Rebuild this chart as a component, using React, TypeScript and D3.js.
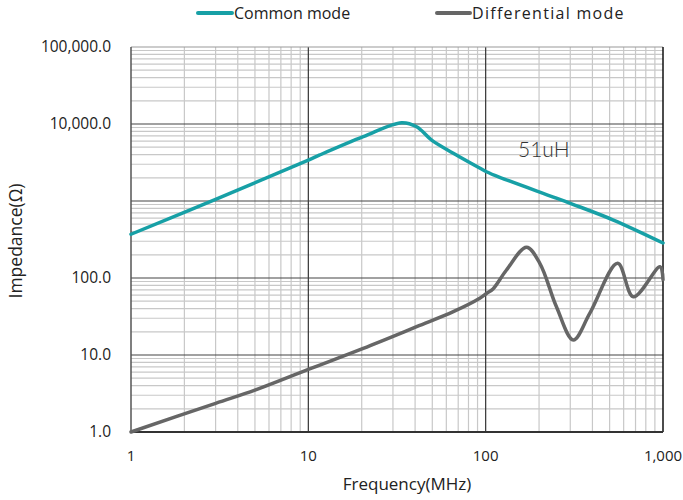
import React from "react";
import * as d3 from "d3";

const yTickValues = [1, 10, 100, 1000, 10000, 100000];
const yTickLabels = ["1.0", "10.0", "100.0", "", "10,000.0", "100,000.0"];
const xTickValues = [1, 10, 100, 1000];
const xTickLabels = ["1", "10", "100", "1,000"];

const commonFreq = [1, 3, 10, 11.6, 20.4, 33.6, 40.8, 49.6, 65.7, 93, 101, 120, 300, 525, 1000];
const commonZ = [370, 1050, 3400, 3960, 6840, 10400, 9230, 6180, 4170, 2660, 2400, 2030, 933, 566, 285];

const diffFreq = [1, 3, 5, 10, 20.4, 40.8, 65.7, 92.6, 101, 110, 131, 170, 202, 251, 312, 387, 555, 681, 962, 1000];
const diffZ = [1, 2.36, 3.5, 6.5, 12.2, 23.3, 36.5, 54.5, 63, 72, 127, 251, 155, 42, 15.7, 35, 155, 57, 140, 95];

const seriesNames = ["Common mode", "Differential mode"];
const seriesColors = ["#17a0a6", "#666666"];

const W = 683;
const H = 500;
const left = 131;
const right = 663;
const top = 47;
const bottom = 432;

export default function App() {
  const x = d3.scaleLog().domain([1, 1000]).range([left, right]);
  const y = d3.scaleLog().domain([1, 100000]).range([bottom, top]);

  const minorX: number[] = [];
  for (let d = 1; d < 1000; d *= 10) for (let k = 2; k <= 9; k++) minorX.push(d * k);
  const minorY: number[] = [];
  for (let d = 1; d < 100000; d *= 10) for (let k = 2; k <= 9; k++) minorY.push(d * k);

  const line = d3
    .line<[number, number]>()
    .x((d) => x(d[0]))
    .y((d) => y(d[1]))
    .curve(d3.curveCatmullRom.alpha(0.5));

  const common = line(commonFreq.map((f, i) => [f, commonZ[i]] as [number, number]));
  const diff = line(diffFreq.map((f, i) => [f, diffZ[i]] as [number, number]));

  const font = "'Open Sans', 'Noto Sans', sans-serif";

  return (
    <svg width={W} height={H} style={{ position: "absolute", left: 0, top: 0 }} fontFamily={font}>
      <rect x={0} y={0} width={W} height={H} fill="#fff" />
      {minorX.map((v) => (
        <line key={"mx" + v} x1={x(v)} x2={x(v)} y1={top} y2={bottom} stroke="#c8c8c8" strokeWidth={1.2} />
      ))}
      {minorY.map((v) => (
        <line key={"my" + v} x1={left} x2={right} y1={y(v)} y2={y(v)} stroke="#c8c8c8" strokeWidth={1.2} />
      ))}
      {[10, 100].map((v) => (
        <line key={"Mx" + v} x1={x(v)} x2={x(v)} y1={top} y2={bottom} stroke="#333" strokeWidth={1.2} />
      ))}
      {[10, 100, 1000, 10000].map((v) => (
        <line key={"My" + v} x1={left} x2={right} y1={y(v)} y2={y(v)} stroke="#444" strokeWidth={1.2} />
      ))}
      <line x1={left} x2={right} y1={top} y2={top} stroke="#999" strokeWidth={1.2} />
      <line x1={left} x2={left} y1={top} y2={bottom} stroke="#555" strokeWidth={1.5} />
      <line x1={right} x2={right} y1={top} y2={bottom} stroke="#111" strokeWidth={1.5} />
      <line x1={left} x2={right} y1={bottom} y2={bottom} stroke="#333" strokeWidth={2} />

      <path d={common || ""} fill="none" stroke={seriesColors[0]} strokeWidth={3.5} strokeLinecap="round" />
      <path d={diff || ""} fill="none" stroke={seriesColors[1]} strokeWidth={3.5} strokeLinecap="round" />

      {yTickValues.map((v, i) => (
        <text key={"yt" + v} x={111} y={y(v)} dy="0.35em" textAnchor="end" fontSize={15.5} fill="#222">
          {yTickLabels[i]}
        </text>
      ))}
      {xTickValues.map((v, i) => (
        <text key={"xt" + v} x={x(v)} y={461} textAnchor="middle" fontSize={15} fill="#222">
          {xTickLabels[i]}
        </text>
      ))}
      <text x={407} y={490} textAnchor="middle" fontSize={17} fill="#222">
        Frequency(MHz)
      </text>
      <text transform="translate(22,241) rotate(-90)" textAnchor="middle" fontSize={17.5} fill="#222">
        Impedance(Ω)
      </text>
      <text x={518} y={157} fontSize={21} fontWeight={300} fill="#333" fontFamily="Lato, 'Open Sans', sans-serif">
        51uH
      </text>

      <line x1={198} x2={232} y1={13} y2={13} stroke={seriesColors[0]} strokeWidth={4} strokeLinecap="round" />
      <text x={234} y={19} fontSize={16} fill="#222">
        {seriesNames[0]}
      </text>
      <line x1={437} x2={470} y1={13} y2={13} stroke={seriesColors[1]} strokeWidth={4} strokeLinecap="round" />
      <text x={472} y={19} fontSize={16} letterSpacing={1.3} fill="#222">
        {seriesNames[1]}
      </text>
    </svg>
  );
}
